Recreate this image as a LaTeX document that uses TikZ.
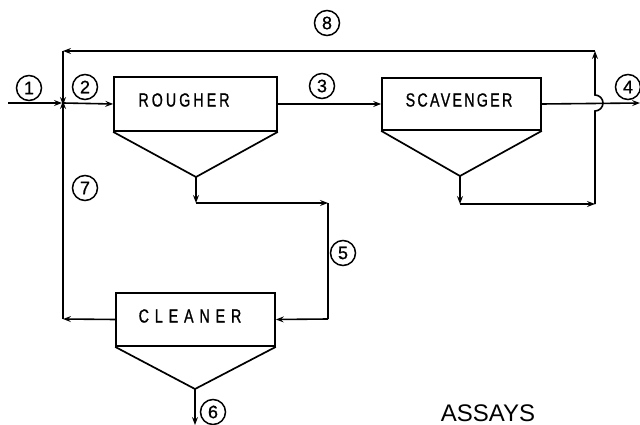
\documentclass[tikz,border=0pt]{standalone}
\usepackage{fontspec}
\setmainfont{Liberation Sans}
\newfontfamily\boxfont[FakeStretch=0.75,FakeBold=1]{Liberation Sans}
\newfontfamily\numfont[FakeBold=0.8]{Liberation Sans}
\usetikzlibrary{arrows.meta}
\begin{document}
\begin{tikzpicture}[x=1pt,y=-1pt,line width=1.6pt,
  flow/.style={-{Stealth[length=8pt,width=6pt,inset=3pt]}},
  unitbox/.style={draw,line width=1.7pt,inner sep=0pt},
  unitlabel/.style={inner sep=0pt,font=\boxfont\fontsize{19}{19}\selectfont},
  num/.style={circle,draw,line width=1.5pt,minimum size=25pt,inner sep=0pt,font=\numfont\fontsize{18}{18}\selectfont}]
\clip (0,0) rectangle (640,425);
% units
\node[unitbox,minimum width=163pt,minimum height=54pt] (rougher) at (195.5,104) {};
\node[unitbox,minimum width=159pt,minimum height=52pt] (scav) at (461.5,104) {};
\node[unitbox,minimum width=159pt,minimum height=53pt] (cleaner) at (195.5,319.5) {};
\node[unitlabel] (rl) at (184,100) {\addfontfeature{LetterSpace=16}ROUGHER};
\node[unitlabel] (sl) at (459,100) {\addfontfeature{LetterSpace=12}SCAVENGER};
\node[unitlabel] (cl) at (190,316) {\addfontfeature{LetterSpace=31}CLEANER};
% hoppers
\coordinate (ra) at (196,177);
\coordinate (sa) at (460,176);
\coordinate (ca) at (195,389);
\draw[line width=1.7pt] (rougher.south west) -- (ra) -- (rougher.south east);
\draw[line width=1.7pt] (scav.south west) -- (sa) -- (scav.south east);
\draw[line width=1.7pt] (cleaner.south west) -- (ca) -- (cleaner.south east);
% points
\coordinate (in) at (8,103);
\coordinate (j) at (63,103);
\coordinate (tl) at (63,51);
\coordinate (tr) at (595,51);
\coordinate (rb) at (196,203);
\coordinate (rr) at (328,203);
\coordinate (cr) at (328,319);
\coordinate (cl0) at (63,319);
\coordinate (sb) at (460,204);
\coordinate (sr) at (595,204);
\coordinate (jb) at (595,111);
\coordinate (out) at (640,103);
\coordinate (cb) at (195,425);
% streams
\draw[flow] (in) -- ([xshift=-1pt]j);
\draw[flow] (j) -- (rougher.west);
\draw[flow] (rougher.east) -- (scav.west);
\draw[flow] (scav.east) -- (out);
\draw[flow] (ra) -- (rb);
\draw[flow] (rb) -- (rr);
\draw (rr) -- (cr);
\draw[flow] (cr) -- (cleaner.east);
\draw[flow] (cleaner.west) -- (cl0);
\draw[flow] (cl0) -- ([yshift=2pt]j);
\draw[flow] (sa) -- (sb);
\draw[flow] (sb) -- (sr);
\draw[flow] (sr) -- (jb) arc[start angle=90,end angle=-90,radius=8] -- (tr);
\draw[flow] (tr) -- (tl);
\draw[flow] (tl) -- ([yshift=-2pt]j);
\draw[flow] (ca) -- (cb);
% stream numbers
\node[num] (n1) at (29,88) {1};
\node[num] (n2) at (85,87) {2};
\node[num] (n3) at (322,86) {3};
\node[num] (n4) at (628,87) {4};
\node[num] (n5) at (343,253) {5};
\node[num] (n6) at (213,412) {6};
\node[num] (n7) at (85,188) {7};
\node[num] (n8) at (327,23) {8};
\node[anchor=base west,inner sep=0pt,font=\fontsize{24}{24}\selectfont] (assays) at (440,421) {ASSAYS};
\end{tikzpicture}
\end{document}
